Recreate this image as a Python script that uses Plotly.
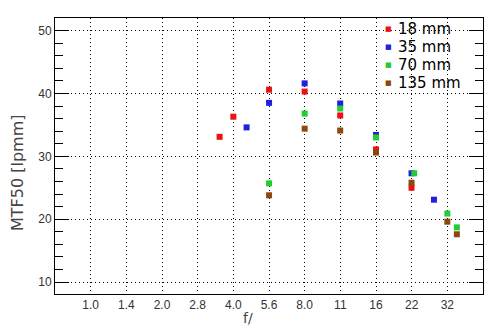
import math
import plotly.graph_objects as go

# ---- data ----
names = ["18 mm", "35 mm", "70 mm", "135 mm"]
colors = ["#ee1111", "#2020dd", "#22cc33", "#8b4a0c"]

f_18 = [3.5, 4.0, 5.66, 8.0, 11.3, 16.0, 22.6]
mtf_18 = [33.1, 36.3, 40.6, 40.3, 36.5, 31.1, 25.0]

f_35 = [4.55, 5.66, 8.0, 11.3, 16.0, 22.6, 28.1]
mtf_35 = [34.6, 38.5, 41.6, 38.4, 33.4, 27.3, 23.1]

f_70 = [5.66, 8.0, 11.3, 16.0, 23.2, 32.0, 35.1]
mtf_70 = [25.7, 36.8, 37.6, 33.0, 27.3, 20.9, 18.7]

f_135 = [5.66, 8.0, 11.3, 16.0, 22.6, 32.0, 35.1]
mtf_135 = [23.8, 34.4, 34.1, 30.6, 25.8, 19.6, 17.6]

tick_vals = [1.0, 1.4142, 2.0, 2.8284, 4.0, 5.6569, 8.0, 11.314, 16.0, 22.627, 32.0]
tick_text = ["1.0", "1.4", "2.0", "2.8", "4.0", "5.6", "8.0", "11", "16", "22", "32"]

xs = [f_18, f_35, f_70, f_135]
ys = [mtf_18, mtf_35, mtf_70, mtf_135]

W, H = 494, 331
L, R, T, B = 55, 11, 18, 37
pw, ph = W - L - R, H - T - B

def px(x):
    return (x - L) / pw

def py(y):
    return (H - B - y) / ph

fig = go.Figure()
for n, c, x, y in zip(names, colors, xs, ys):
    fig.add_trace(go.Scatter(x=x, y=y, mode="markers", name=n, showlegend=False,
                             marker=dict(symbol="square", size=6, color=c)))

grid = dict(showgrid=True, gridcolor="black", gridwidth=1, griddash="1px,3px")
tfont = dict(family="Liberation Sans", size=12, color="#333333")

fig.update_xaxes(type="log", range=[math.log10(1 / math.sqrt(2)), math.log10(32 * math.sqrt(2))],
                 tickvals=tick_vals, ticktext=tick_text, ticks="",
                 showline=True, linecolor="black", linewidth=1, mirror=True,
                 tickfont=tfont, zeroline=False, **grid)
fig.update_yaxes(range=[8.1, 52], tick0=10, dtick=10, ticks="inside", ticklen=14,
                 tickcolor="black", tickwidth=1,
                 showline=True, linecolor="black", linewidth=1, mirror="ticks",
                 minor=dict(tick0=0, dtick=2, ticks="inside", ticklen=8, tickcolor="black",
                            showgrid=False),
                 tickfont=tfont, zeroline=False, **grid)

annotations = [
    dict(text="f/", xref="paper", yref="paper", x=px(248), y=py(318), showarrow=False,
         xanchor="center", yanchor="middle", font=dict(family="DejaVu Sans", size=14, color="#444444")),
    dict(text="MTF50 [lpmm]", xref="paper", yref="paper", x=px(17), y=py(173), textangle=-90,
         showarrow=False, xanchor="center", yanchor="middle",
         font=dict(family="DejaVu Sans", size=16, color="#444444")),
]
for i, (n, c) in enumerate(zip(names, colors)):
    yy = 29 + 18.1 * i
    annotations.append(dict(text="■", xref="paper", yref="paper", x=px(388), y=py(yy),
                            showarrow=False, xanchor="center", yanchor="middle",
                            font=dict(family="DejaVu Sans", size=7, color=c)))
    annotations.append(dict(text=n, xref="paper", yref="paper", x=px(396), y=py(yy),
                            showarrow=False, xanchor="left", yanchor="middle",
                            font=dict(family="DejaVu Sans", size=15, color="black")))

fig.update_layout(
    width=W, height=H, margin=dict(l=L, r=R, t=T, b=B),
    paper_bgcolor="white", plot_bgcolor="white",
    annotations=annotations,
    shapes=[dict(type="rect", xref="paper", yref="paper", x0=px(377), x1=px(466),
                 y0=py(92), y1=py(18.5), fillcolor="white", line=dict(width=0), layer="between")],
)

fig.write_html("out.html")
